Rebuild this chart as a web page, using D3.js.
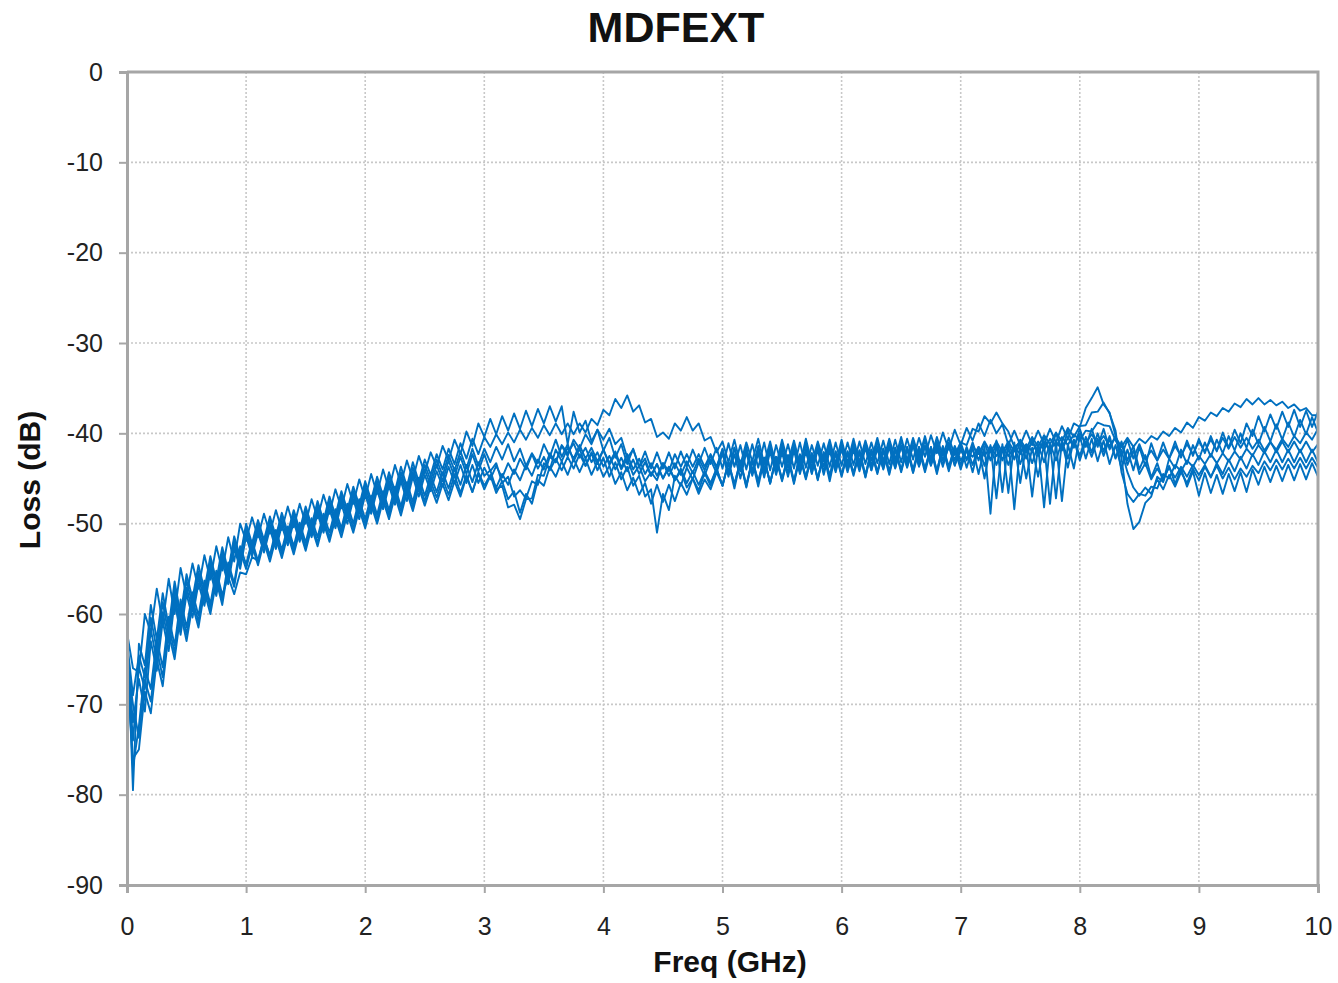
<!DOCTYPE html>
<html>
<head>
<meta charset="utf-8">
<script src="https://cdn.jsdelivr.net/npm/d3@7/dist/d3.min.js"></script>
<style>
  body { margin: 0; background: #fff; }
  text { font-family: "Liberation Sans", Arial, sans-serif; }
</style>
</head>
<body>
<div id="chart"></div>
<script>
// sample frequencies (GHz), 0.05 GHz step
const freq = d3.range(0, 201).map(i => +(i * 0.05).toFixed(2));
const xTicks = [0, 1, 2, 3, 4, 5, 6, 7, 8, 9, 10];
const yTicks = [0, -10, -20, -30, -40, -50, -60, -70, -80, -90];

// loss (dB) per pair
const lossA = [
  -61, -79.5, -63.3, -65.7, -59.0, -62.8, -57.7, -61.4, -56.4, -60.1, -55.6, -58.3, -54.6, -57.3, -53.6, -56.3, -52.6, -55.2, -51.4, -53.7,
  -50.0, -52.2, -49.6, -51.8, -49.2, -51.4, -48.8, -51.0, -48.5, -50.7, -48.1, -50.2, -47.5, -49.7, -47.0, -49.1, -46.4, -48.5, -45.9, -48.0,
  -45.3, -47.4, -44.8, -46.9, -44.3, -46.4, -43.7, -45.9, -43.2, -45.4, -42.9, -44.6, -42.3, -44.0, -41.7, -43.4, -41.1, -42.8, -40.6, -42.3,
  -40.4, -41.5, -40.1, -41.2, -39.9, -41.0, -39.6, -40.7, -39.4, -40.5, -39.1, -40.2, -38.9, -40.1, -38.9, -40.1, -38.9, -39.9, -38.4, -39.1,
  -37.4, -38.0, -36.2, -37.2, -35.8, -37.6, -36.9, -38.8, -38.4, -40.4, -39.9, -40.6, -38.9, -39.7, -38.2, -39.7, -38.9, -40.8, -40.4, -42.1,
  -40.9, -43.2, -40.7, -43.5, -41.0, -43.1, -40.6, -43.4, -40.9, -43.6, -40.7, -43.2, -40.8, -43.5, -40.6, -43.3, -40.9, -43.1, -40.7, -43.4,
  -40.7, -43.3, -40.6, -43.2, -40.8, -43.0, -40.5, -43.1, -40.6, -42.9, -40.4, -43.0, -40.5, -42.7, -40.3, -42.8, -40.4, -42.5, -40.5, -42.4,
  -41.0, -41.3, -39.5, -39.8, -38.1, -38.9, -37.7, -38.9, -39.8, -41.5, -41.0, -42.0, -41.0, -42.0, -41.0, -41.9, -40.9, -41.8, -40.5, -41.5,
  -40.0, -41.1, -40.1, -41.2, -40.3, -41.4, -40.4, -41.5, -40.5, -41.5, -40.6, -41.1, -40.3, -40.7, -39.8, -40.3, -39.4, -39.9, -38.8, -39.4,
  -38.2, -38.6, -37.7, -38.1, -37.2, -37.6, -36.7, -37.1, -36.2, -36.8, -36.1, -36.8, -36.3, -36.9, -36.5, -37.2, -36.8, -37.5, -37.2, -38.0, -38.0
];
const lossB = [
  -62, -66, -66.4, -60.0, -62.1, -57.2, -61.0, -56.1, -60.0, -54.9, -58.0, -54.4, -57.2, -53.5, -56.2, -52.5, -55.2, -51.5, -54.2, -50.0,
  -51.9, -49.3, -51.5, -48.9, -51.1, -48.5, -50.7, -48.1, -50.4, -47.8, -50.0, -47.3, -49.4, -46.8, -48.9, -46.2, -48.3, -45.6, -47.8, -45.1,
  -47.2, -44.5, -46.7, -44.0, -46.2, -43.5, -45.6, -43.0, -45.1, -42.5, -44.4, -42.1, -43.7, -41.4, -43.0, -40.7, -42.3, -39.8, -41.4, -38.9,
  -40.4, -38.4, -40.1, -38.1, -39.7, -37.8, -39.5, -37.5, -39.2, -37.3, -38.9, -37.0, -38.7, -37.0, -41.2, -37.6, -39.9, -38.6, -40.9, -39.6,
  -41.9, -40.5, -42.7, -41.2, -43.4, -41.7, -43.7, -42.0, -43.9, -42.1, -43.9, -42.1, -43.9, -42.0, -43.7, -41.8, -43.4, -41.6, -43.4, -41.6,
  -43.9, -41.1, -43.7, -41.3, -44.0, -41.2, -43.8, -41.0, -44.1, -41.3, -43.7, -41.2, -43.9, -41.0, -43.8, -41.3, -43.6, -41.1, -43.7, -41.0,
  -43.6, -41.0, -43.5, -40.9, -43.4, -41.0, -43.3, -40.8, -43.4, -40.7, -43.2, -40.6, -42.9, -40.5, -42.6, -40.2, -42.2, -39.9, -41.8, -39.6,
  -41.3, -39.4, -40.8, -38.9, -40.3, -38.5, -40.0, -39.0, -41.3, -39.7, -41.3, -39.7, -41.3, -39.7, -41.2, -39.5, -41.0, -39.2, -40.6, -38.9,
  -39.3, -37.2, -36.1, -34.9, -36.8, -37.7, -40.3, -42.7, -47.8, -50.6, -49.8, -47.7, -47.0, -44.8, -45.4, -42.8, -43.9, -41.8, -43.4, -41.3,
  -42.9, -41.0, -42.6, -40.7, -42.2, -40.3, -41.9, -40.0, -41.6, -39.6, -41.2, -39.3, -40.9, -39.0, -40.7, -38.8, -40.4, -38.5, -40.1, -38.2, -39.9
];
const lossC = [
  -64, -74, -65.9, -68.3, -61.7, -65.2, -59.8, -63.2, -57.9, -61.6, -57.1, -59.7, -55.9, -58.5, -54.7, -57.4, -53.7, -56.2, -52.3, -54.6,
  -50.9, -53.1, -50.5, -52.7, -50.1, -52.3, -49.7, -51.9, -49.4, -51.6, -49.0, -51.1, -48.4, -50.6, -47.9, -50.0, -47.3, -49.4, -46.8, -48.9,
  -46.3, -48.4, -45.8, -47.9, -45.3, -47.4, -44.8, -46.9, -44.3, -46.4, -44.0, -45.8, -43.5, -45.3, -43.0, -44.8, -42.6, -44.5, -42.3, -44.2,
  -42.3, -44.2, -43.3, -45.5, -44.8, -47.0, -46.3, -47.2, -45.3, -45.7, -43.3, -44.0, -41.8, -43.1, -41.6, -42.8, -41.3, -42.8, -41.6, -43.1,
  -41.8, -43.5, -42.3, -44.0, -42.8, -44.6, -43.6, -45.3, -44.3, -45.2, -43.3, -44.2, -42.3, -43.7, -42.3, -43.7, -42.3, -43.7, -42.3, -43.7,
  -41.8, -44.4, -41.6, -44.2, -41.9, -44.5, -41.7, -44.3, -41.5, -44.1, -41.8, -44.4, -41.6, -44.2, -41.7, -44.5, -41.5, -44.3, -41.6, -44.1,
  -41.5, -44.1, -41.6, -44.0, -41.4, -44.1, -41.5, -43.9, -41.3, -43.8, -41.4, -43.7, -41.3, -43.6, -41.4, -43.5, -41.5, -43.5, -41.4, -43.5,
  -41.9, -42.8, -41.4, -42.3, -40.9, -42.1, -40.9, -42.1, -40.9, -42.0, -40.7, -41.7, -40.4, -41.5, -40.2, -41.2, -39.9, -40.9, -39.4, -40.4,
  -39.2, -39.1, -37.7, -37.6, -36.6, -37.8, -39.7, -44.3, -46.7, -47.6, -46.7, -46.9, -45.9, -46.1, -44.5, -45.0, -43.5, -44.2, -43.0, -43.7,
  -42.5, -43.4, -42.3, -43.3, -42.2, -43.1, -42.0, -42.9, -41.7, -42.5, -41.3, -42.2, -41.0, -41.8, -40.6, -41.5, -40.3, -41.1, -39.9, -40.7, -39.5
];
const lossD = [
  -65, -77, -72.4, -66.0, -68.3, -62.8, -65.9, -60.3, -63.5, -58.4, -61.5, -57.6, -60.2, -56.3, -58.9, -55.2, -57.9, -55.9, -57.8, -55.4,
  -55.6, -53.7, -54.1, -51.6, -53.5, -50.7, -52.9, -50.3, -52.5, -49.9, -52.1, -49.4, -51.5, -48.9, -51.0, -48.4, -50.5, -47.8, -50.0, -47.3,
  -49.5, -46.9, -49.0, -46.4, -48.5, -45.9, -48.1, -45.4, -47.6, -44.9, -46.9, -44.7, -46.5, -44.3, -46.1, -43.9, -45.7, -43.5, -45.4, -43.2,
  -44.7, -44.1, -46.2, -45.8, -48.2, -47.9, -49.5, -47.3, -47.2, -44.6, -44.7, -42.6, -43.2, -41.3, -42.2, -41.1, -42.7, -41.6, -43.2, -42.1,
  -43.7, -42.5, -44.0, -42.7, -44.2, -42.9, -44.5, -43.2, -44.7, -43.4, -45.0, -43.7, -45.2, -43.9, -45.5, -44.2, -45.7, -44.2, -45.5, -43.9,
  -45.8, -43.2, -45.7, -43.1, -46.0, -42.9, -45.4, -42.7, -45.6, -42.6, -45.1, -42.5, -45.3, -42.4, -44.9, -42.2, -45.2, -42.1, -44.7, -42.0,
  -44.6, -42.0, -44.5, -41.9, -44.8, -41.8, -44.3, -41.7, -44.2, -41.6, -44.1, -41.5, -44.0, -41.5, -43.9, -41.5, -44.2, -41.4, -43.7, -41.4,
  -43.0, -41.9, -42.6, -41.5, -42.5, -41.5, -42.5, -41.5, -42.5, -41.5, -42.3, -41.2, -42.0, -40.9, -41.8, -40.6, -41.5, -40.4, -41.3, -40.1,
  -40.8, -39.7, -39.8, -38.8, -39.1, -39.2, -40.8, -41.9, -44.3, -46.0, -46.9, -46.0, -46.7, -45.1, -46.2, -44.6, -45.9, -44.3, -45.5, -43.9,
  -45.2, -43.7, -44.9, -43.3, -44.5, -42.9, -44.2, -42.6, -43.9, -42.3, -43.5, -42.0, -43.2, -41.8, -43.2, -41.8, -43.2, -41.8, -43.2, -41.8, -43.2
];
const lossE = [
  -63, -69, -64.6, -67.0, -60.4, -64.0, -58.7, -62.3, -57.1, -60.8, -56.3, -59.0, -55.3, -57.9, -54.1, -56.8, -53.1, -55.7, -51.8, -54.1,
  -50.4, -52.6, -50.0, -52.2, -49.6, -51.8, -49.2, -51.4, -48.9, -51.1, -48.5, -50.6, -48.0, -50.1, -47.5, -49.6, -46.9, -49.0, -46.4, -48.5,
  -45.8, -47.9, -45.3, -47.4, -44.8, -46.9, -44.3, -46.4, -43.8, -45.9, -43.5, -45.2, -42.9, -44.7, -42.4, -44.1, -42.0, -43.9, -41.7, -43.6,
  -41.7, -43.2, -41.5, -42.9, -41.2, -43.1, -41.7, -43.6, -42.2, -43.3, -41.2, -42.6, -40.7, -42.6, -41.2, -43.1, -41.7, -43.6, -42.2, -44.1,
  -42.7, -44.8, -43.2, -45.1, -43.7, -45.8, -44.7, -47.0, -46.2, -51.0, -46.7, -48.5, -44.7, -45.8, -43.8, -45.1, -43.2, -44.7, -42.9, -44.4,
  -42.2, -44.8, -42.3, -45.0, -42.1, -44.7, -42.2, -44.9, -42.0, -44.6, -42.1, -44.8, -41.9, -44.5, -42.0, -44.4, -41.8, -44.6, -41.9, -44.3,
  -41.7, -44.3, -41.8, -44.2, -41.6, -44.1, -41.7, -44.0, -41.5, -43.9, -41.4, -43.8, -41.3, -43.7, -41.4, -43.6, -41.3, -43.7, -41.2, -43.6,
  -41.4, -43.8, -41.6, -44.5, -41.5, -48.9, -40.8, -46.5, -41.0, -48.4, -41.3, -45.0, -41.6, -44.8, -41.2, -47.8, -41.0, -47.5, -41.2, -43.9,
  -40.3, -42.8, -40.6, -43.1, -40.8, -43.4, -41.3, -43.9, -41.8, -44.1, -41.5, -43.6, -41.1, -43.0, -41.0, -42.8, -40.9, -42.7, -40.8, -42.5,
  -40.6, -42.2, -40.3, -42.0, -39.9, -41.6, -39.6, -41.1, -38.9, -40.3, -38.1, -39.8, -37.9, -39.5, -37.6, -39.3, -37.4, -39.3, -37.5, -39.3, -37.6
];
const lossF = [
  -66, -76, -75.0, -68.6, -71.0, -65.1, -68.0, -62.1, -65.0, -59.9, -63.0, -59.0, -61.5, -57.5, -60.0, -56.3, -59.0, -54.8, -57.0, -53.0,
  -55.0, -52.4, -54.6, -52.0, -54.2, -51.6, -53.8, -51.2, -53.4, -50.8, -53.0, -50.4, -52.5, -49.9, -52.0, -49.4, -51.5, -48.9, -51.0, -48.4,
  -50.5, -47.9, -50.0, -47.4, -49.5, -46.9, -49.1, -46.5, -48.6, -46.0, -48.0, -45.9, -47.7, -45.6, -47.4, -45.3, -47.0, -44.8, -46.5, -44.3,
  -45.8, -44.6, -46.6, -45.3, -47.3, -46.4, -48.8, -46.7, -47.8, -45.2, -45.8, -43.7, -44.8, -43.1, -44.6, -42.8, -44.3, -42.8, -44.6, -43.1,
  -44.8, -43.6, -45.6, -44.3, -46.3, -44.9, -46.8, -45.5, -47.8, -45.7, -47.6, -45.7, -47.5, -45.5, -46.8, -45.0, -46.3, -44.4, -45.8, -43.9,
  -45.8, -43.2, -46.1, -43.1, -45.7, -43.0, -45.9, -42.9, -45.5, -42.8, -45.3, -42.7, -45.6, -42.6, -45.1, -42.4, -45.0, -42.3, -45.3, -42.2,
  -44.8, -42.2, -44.7, -42.1, -44.9, -42.0, -44.5, -41.9, -44.6, -41.8, -44.3, -41.7, -44.4, -41.8, -44.3, -41.8, -44.5, -41.7, -44.2, -41.8,
  -44.0, -41.8, -44.3, -41.6, -45.0, -41.3, -47.2, -41.2, -46.6, -41.0, -45.5, -41.3, -47.0, -41.4, -48.2, -41.1, -47.2, -40.9, -43.8, -40.7,
  -43.0, -40.9, -42.6, -40.6, -42.5, -40.6, -42.8, -40.9, -43.0, -41.4, -44.0, -42.4, -44.9, -43.3, -45.3, -43.6, -45.6, -43.9, -45.9, -44.2,
  -46.9, -44.4, -46.6, -44.6, -46.7, -44.5, -46.4, -44.3, -46.5, -44.0, -45.7, -43.7, -45.4, -43.6, -45.3, -43.5, -45.2, -43.4, -45.1, -43.3, -44.8
];
const lossG = [
  -64, -72, -67.2, -70.8, -63.0, -66.3, -60.8, -64.1, -58.6, -62.3, -57.8, -60.4, -56.6, -59.1, -55.3, -58.0, -54.3, -56.7, -52.7, -55.0,
  -51.4, -53.6, -51.0, -53.2, -50.6, -52.8, -50.2, -52.4, -49.8, -52.0, -49.4, -51.5, -48.9, -51.0, -48.4, -50.5, -47.8, -50.0, -47.3, -49.5,
  -46.8, -48.9, -46.3, -48.4, -45.8, -47.9, -45.3, -47.5, -44.8, -47.0, -44.6, -46.4, -44.2, -45.9, -43.7, -45.5, -43.5, -45.5, -43.5, -45.5,
  -43.8, -45.1, -43.6, -44.9, -43.3, -44.5, -42.8, -44.0, -42.3, -43.9, -42.6, -44.1, -42.8, -44.1, -42.6, -43.9, -42.3, -43.6, -42.1, -43.4,
  -41.8, -43.3, -42.0, -43.8, -42.3, -44.0, -42.8, -44.5, -43.3, -44.7, -43.3, -44.7, -43.3, -44.6, -43.1, -44.4, -42.8, -44.1, -42.5, -43.9,
  -41.7, -44.3, -41.6, -44.1, -41.5, -44.2, -41.4, -44.0, -41.3, -43.9, -41.2, -43.8, -41.3, -43.7, -41.1, -43.9, -41.2, -43.7, -41.1, -43.8,
  -41.2, -43.8, -41.1, -43.7, -41.0, -43.6, -40.9, -43.5, -40.9, -43.4, -40.8, -43.3, -40.7, -43.2, -40.8, -43.1, -40.9, -43.0, -41.0, -43.0,
  -41.0, -43.0, -41.0, -43.0, -41.0, -43.0, -41.0, -43.0, -41.0, -42.9, -40.9, -42.8, -40.6, -42.5, -40.4, -42.2, -40.0, -41.9, -39.7, -41.6,
  -39.5, -41.5, -39.5, -41.5, -39.5, -41.8, -40.3, -42.5, -40.7, -42.8, -41.2, -42.9, -41.9, -43.0, -41.8, -42.8, -41.4, -42.5, -41.2, -42.3,
  -40.9, -42.0, -40.7, -41.9, -40.5, -41.7, -40.4, -41.6, -40.5, -41.7, -40.7, -41.9, -40.9, -42.1, -40.9, -42.1, -40.9, -42.1, -40.9, -42.1, -41.2
];
const lossH = [
  -65, -70, -73.7, -67.3, -69.7, -63.9, -67.0, -61.2, -64.3, -59.2, -62.3, -58.3, -60.9, -56.9, -59.4, -55.7, -58.4, -54.3, -56.6, -52.5,
  -54.5, -51.9, -54.1, -51.5, -53.7, -51.1, -53.3, -50.7, -53.0, -50.4, -52.6, -49.9, -52.1, -49.4, -51.6, -48.9, -51.0, -48.4, -50.5, -47.9,
  -50.0, -47.4, -49.5, -46.9, -49.0, -46.4, -48.6, -46.0, -48.1, -45.5, -47.5, -45.3, -47.1, -45.0, -46.8, -44.6, -46.6, -44.6, -46.5, -44.5,
  -46.2, -44.7, -46.0, -44.5, -45.7, -44.0, -45.2, -43.5, -44.7, -42.9, -44.0, -42.2, -43.2, -41.4, -42.5, -40.7, -41.7, -40.1, -41.2, -39.6,
  -40.7, -39.5, -41.2, -40.5, -42.7, -41.8, -43.7, -42.8, -44.7, -43.4, -45.0, -43.7, -45.2, -44.2, -46.0, -45.0, -46.7, -45.1, -46.2, -44.3,
  -45.8, -43.2, -45.6, -43.0, -45.9, -42.9, -45.3, -42.7, -45.5, -42.6, -45.1, -42.4, -45.4, -42.3, -44.9, -42.2, -45.1, -42.1, -44.8, -42.0,
  -44.6, -42.0, -44.4, -41.9, -44.6, -41.8, -44.3, -41.7, -44.4, -41.6, -44.1, -41.5, -44.3, -41.5, -44.0, -41.5, -44.2, -41.5, -43.9, -41.5,
  -43.5, -41.5, -43.5, -41.5, -43.6, -41.5, -43.5, -41.5, -43.5, -41.4, -43.4, -41.3, -43.3, -41.2, -43.2, -41.1, -43.0, -40.9, -42.8, -40.7,
  -42.5, -40.4, -42.1, -40.0, -42.0, -40.3, -42.7, -41.1, -43.5, -41.9, -44.5, -43.3, -45.1, -43.9, -45.0, -43.8, -44.9, -43.7, -44.8, -43.5,
  -44.6, -43.5, -44.8, -43.6, -45.0, -43.8, -45.1, -43.9, -44.8, -43.6, -44.4, -43.1, -44.1, -42.9, -44.0, -42.8, -43.9, -42.7, -43.9, -42.7, -43.8
];

const seriesList = [lossA, lossB, lossC, lossD, lossE, lossF, lossG, lossH];
seriesList.forEach((s, k) => {
  if (s.length !== freq.length) console.error('series', k, 'has', s.length, 'points');
});

// 1. canvas and plot area
const width = 1338, height = 983;
const margin = { top: 72, right: 20, bottom: 98, left: 127 };
const innerW = width - margin.left - margin.right;
const innerH = height - margin.top - margin.bottom;

const svg = d3.select('#chart').append('svg')
  .attr('width', width)
  .attr('height', height);

const g = svg.append('g')
  .attr('transform', `translate(${margin.left},${margin.top})`);

// 2. scales
const x = d3.scaleLinear().domain([0, 10]).range([0, innerW]);
const y = d3.scaleLinear().domain([-90, 0]).range([innerH, 0]);

// 3. dotted grid
g.append('g')
  .selectAll('line')
  .data(yTicks.filter(t => t > -90 && t < 0))
  .join('line')
  .attr('x1', 0).attr('x2', innerW)
  .attr('y1', d => y(d)).attr('y2', d => y(d))
  .attr('stroke', '#c8c8c8')
  .attr('stroke-width', 1.6)
  .attr('stroke-dasharray', '2,2');

g.append('g')
  .selectAll('line')
  .data(xTicks.filter(t => t > 0 && t < 10))
  .join('line')
  .attr('x1', d => x(d)).attr('x2', d => x(d))
  .attr('y1', 0).attr('y2', innerH)
  .attr('stroke', '#c8c8c8')
  .attr('stroke-width', 1.6)
  .attr('stroke-dasharray', '2,2');

// 4. curves
g.append('clipPath').attr('id', 'plot-clip')
  .append('rect').attr('width', innerW).attr('height', innerH);

const line = d3.line()
  .x((d, i) => x(freq[i]))
  .y(d => y(d));

g.append('g')
  .attr('clip-path', 'url(#plot-clip)')
  .selectAll('path')
  .data(seriesList)
  .join('path')
  .attr('d', d => line(d))
  .attr('fill', 'none')
  .attr('stroke', '#0070c0')
  .attr('stroke-width', 1.9)
  .attr('stroke-linejoin', 'round');

// 5. frame (top and right sides)
g.append('path')
  .attr('d', `M0,0H${innerW}V${innerH}`)
  .attr('fill', 'none')
  .attr('stroke', '#a6a6a6')
  .attr('stroke-width', 3);

// 6. axes (plain hyphen for negatives, like the original)
const yAxis = g.append('g')
  .call(d3.axisLeft(y).tickValues(yTicks).tickFormat(d => String(d)).tickSize(8).tickPadding(16));
const xAxis = g.append('g')
  .attr('transform', `translate(0,${innerH})`)
  .call(d3.axisBottom(x).tickValues(xTicks).tickFormat(d => String(d)).tickSize(8).tickPadding(24));

[yAxis, xAxis].forEach(ax => {
  ax.select('.domain').attr('stroke', '#a6a6a6').attr('stroke-width', 3);
  ax.selectAll('.tick line').attr('stroke', '#a6a6a6').attr('stroke-width', 2);
  ax.selectAll('.tick text')
    .attr('fill', '#222')
    .style('font-size', '25px')
    .style('font-family', '"Liberation Sans", Arial, sans-serif');
});

// 7. titles
svg.append('text')
  .attr('x', 676).attr('y', 42)
  .attr('text-anchor', 'middle')
  .style('font-size', '43px')
  .style('font-weight', 'bold')
  .attr('fill', '#111')
  .text('MDFEXT');

svg.append('text')
  .attr('x', 730).attr('y', 972)
  .attr('text-anchor', 'middle')
  .style('font-size', '30px')
  .style('font-weight', 'bold')
  .attr('fill', '#111')
  .text('Freq (GHz)');

svg.append('text')
  .attr('transform', 'translate(40,480) rotate(-90)')
  .attr('text-anchor', 'middle')
  .style('font-size', '30px')
  .style('font-weight', 'bold')
  .attr('fill', '#111')
  .text('Loss (dB)');
</script>
</body>
</html>
